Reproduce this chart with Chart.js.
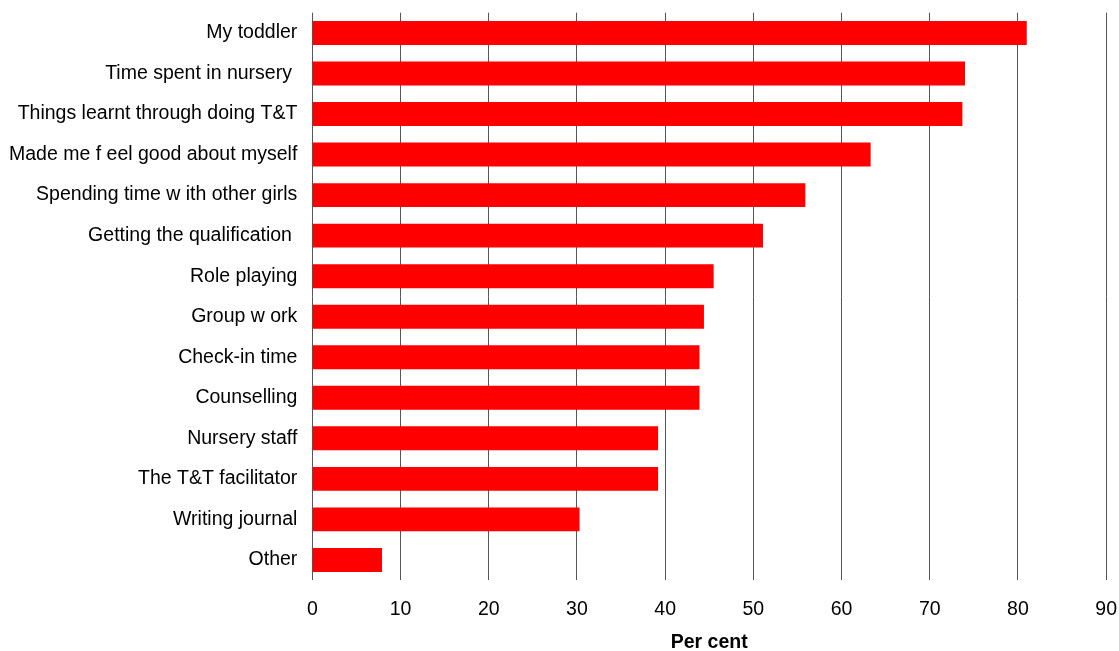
<!DOCTYPE html>
<html>
<head>
<meta charset="utf-8">
<script src="https://cdn.jsdelivr.net/npm/chart.js@4/dist/chart.umd.min.js"></script>
<style>
    html, body { margin: 0; padding: 0; background: #fff; overflow: hidden; }
    #wrap { width: 1135px; height: 668px; position: relative; margin-top: -14px; }
</style>
</head>
<body>
<div id="wrap"><canvas id="barChart"></canvas></div>
<script>
// Categories, top to bottom as in the picture
const categories = [
    'My toddler',
    'Time spent in nursery ',
    'Things learnt through doing T&T',
    'Made me f eel good about myself',
    'Spending time w ith other girls',
    'Getting the qualification ',
    'Role playing',
    'Group w ork',
    'Check-in time',
    'Counselling',
    'Nursery staff',
    'The T&T facilitator',
    'Writing journal',
    'Other'
];

// Per cent values
const percentValues = [81, 74, 73.7, 63.3, 55.9, 51.1, 45.5, 44.4, 43.9, 43.9, 39.2, 39.2, 30.3, 7.9];

// Axis range
const axisMin = 0;
const axisMax = 90;
const axisStep = 10;

const fontFamily = '"Liberation Sans", Arial, sans-serif';

function initChart() {
    const ctx = document.getElementById('barChart').getContext('2d');
    new Chart(ctx, {
        type: 'bar',
        data: {
            labels: categories,
            datasets: [{
                label: 'Per cent',
                data: percentValues,
                backgroundColor: '#ff0000',
                borderWidth: 0,
                categoryPercentage: 1,
                barPercentage: 0.59
            }]
        },
        options: {
            indexAxis: 'y',
            responsive: true,
            maintainAspectRatio: false,
            animation: false,
            layout: {
                padding: { top: 0, right: 0, bottom: 0, left: -6 }
            },
            plugins: {
                legend: { display: false },
                tooltip: { enabled: false }
            },
            scales: {
                x: {
                    min: axisMin,
                    max: axisMax,
                    ticks: {
                        stepSize: axisStep,
                        color: '#000',
                        padding: 18,
                        font: { family: fontFamily, size: 19.5 }
                    },
                    grid: {
                        color: '#555',
                        lineWidth: 1,
                        drawTicks: false
                    },
                    border: { display: false },
                    title: {
                        display: true,
                        text: 'Per cent',
                        color: '#000',
                        padding: { top: -9, bottom: 0 },
                        font: { family: fontFamily, size: 19.5, weight: 'bold' }
                    }
                },
                y: {
                    ticks: {
                        color: '#000',
                        padding: 15,
                        font: { family: fontFamily, size: 19.5 }
                    },
                    grid: { display: false, drawTicks: false },
                    border: { display: false }
                }
            }
        }
    });
}

initChart();
</script>
</body>
</html>
